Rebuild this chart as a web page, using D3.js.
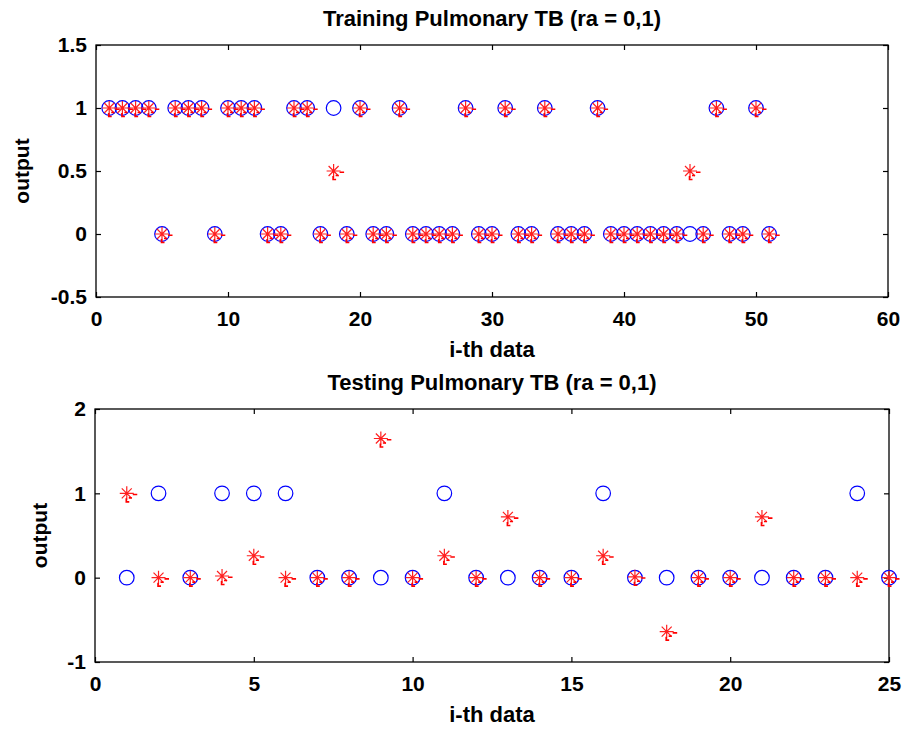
<!DOCTYPE html>
<html><head><meta charset="utf-8">
<script src="https://cdn.jsdelivr.net/npm/d3@7"></script>
<style>body{margin:0;background:#fff;} text{font-family:"Liberation Sans",Arial,sans-serif;font-weight:bold;fill:#000;}</style>
</head><body>
<svg id="chart" width="904" height="729"></svg>
<script>
// ---- data ----
const trainTitle = "Training Pulmonary TB (ra = 0,1)";
const testTitle = "Testing Pulmonary TB (ra = 0,1)";
const xLabel = "i-th data";
const yLabel = "output";
const trainTarget = [1,1,1,1,0,1,1,1,0,1, 1,1,0,0,1,1,0,1,0,1, 0,0,1,0,0,0,0,1,0,0, 1,0,0,1,0,0,0,1,0,0, 0,0,0,0,0,0,1,0,0,1, 0];
const trainOutput = [1,1,1,1,0,1,1,1,0,1, 1,1,0,0,1,1,0,0.5,0,1, 0,0,1,0,0,0,0,1,0,0, 1,0,0,1,0,0,0,1,0,0, 0,0,0,0,0.5,0,1,0,0,1, 0];
const testTarget = [0,1,0,1,1,1,0,0,0,0, 1,0,0,0,0,1,0,0,0,0, 0,0,0,1,0];
const testOutput = [1,0,0,0.02,0.26,0,0,0,1.65,0, 0.26,0,0.72,0,0,0.26,0.01,-0.64,0,0, 0.72,0,0,0,0];
const trainXTicks = [0,10,20,30,40,50,60];
const trainYTicks = [-0.5,0,0.5,1,1.5];
const testXTicks = [0,5,10,15,20,25];
const testYTicks = [-1,0,1,2];

const svg = d3.select("#chart");
svg.append("rect").attr("width",904).attr("height",729).attr("fill","#fff");

function panel(o){
  const x = d3.scaleLinear().domain(o.xDomain).range([o.left,o.right]);
  const y = d3.scaleLinear().domain(o.yDomain).range([o.bottom,o.top]);
  const g = svg.append("g");
  const tl = 5;
  const fmt = d => String(d);
  g.append("g").attr("transform",`translate(0,${o.bottom})`)
    .call(d3.axisBottom(x).tickValues(o.xTicks).tickSize(-tl).tickPadding(14).tickFormat(fmt))
    .call(a=>{a.select(".domain").remove(); a.selectAll("text").attr("font-size",21).attr("dy","0.71em");});
  g.append("g").attr("transform",`translate(0,${o.top})`)
    .call(d3.axisTop(x).tickValues(o.xTicks).tickSize(-tl).tickFormat(""))
    .call(a=>a.select(".domain").remove());
  g.append("g").attr("transform",`translate(${o.left},0)`)
    .call(d3.axisLeft(y).tickValues(o.yTicks).tickSize(-tl).tickPadding(9).tickFormat(fmt))
    .call(a=>{a.select(".domain").remove(); a.selectAll("text").attr("font-size",21);});
  g.append("g").attr("transform",`translate(${o.right},0)`)
    .call(d3.axisRight(y).tickValues(o.yTicks).tickSize(-tl).tickFormat(""))
    .call(a=>a.select(".domain").remove());
  g.selectAll(".tick line").attr("stroke","#000").attr("stroke-width",1.2);
  g.append("rect").attr("x",o.left).attr("y",o.top).attr("width",o.right-o.left).attr("height",o.bottom-o.top)
    .attr("fill","none").attr("stroke","#000").attr("stroke-width",1.3);
  g.append("g").selectAll("circle").data(o.target).join("circle")
    .attr("cx",(d,i)=>x(i+1)).attr("cy",d=>y(d)).attr("r",7.3)
    .attr("fill","none").attr("stroke","#0000ff").attr("stroke-width",1.2);
  const star = "M-7,0H7M0,-7V7M-5,-5L5,5M-5,5L5,-5";
  const tail = "M6,1.2H10.5M-0.5,5V8.5H2.5M2,4.5H5";
  const sg = g.append("g").selectAll("g").data(o.output).join("g")
    .attr("transform",(d,i)=>`translate(${x(i+1)},${y(d)})`);
  sg.append("path").attr("d",star).attr("stroke","#ff2020").attr("stroke-width",1.2).attr("fill","none");
  sg.append("path").attr("d",tail).attr("stroke","#ff0000").attr("stroke-width",1.6).attr("fill","none");
  svg.append("text").attr("x",(o.left+o.right)/2).attr("y",o.top-19).attr("text-anchor","middle")
    .attr("font-size",22).text(o.title);
  svg.append("text").attr("x",(o.left+o.right)/2).attr("y",o.bottom+60).attr("text-anchor","middle")
    .attr("font-size",22).text(xLabel);
  svg.append("text").attr("transform",`translate(${o.yLabelX},${(o.top+o.bottom)/2}) rotate(-90)`)
    .attr("text-anchor","middle").attr("font-size",21).text(yLabel);
}

panel({title:trainTitle, target:trainTarget, output:trainOutput, xDomain:[0,60], yDomain:[-0.5,1.5],
  xTicks:trainXTicks, yTicks:trainYTicks, left:96, right:888, top:45, bottom:297, yLabelX:29});
panel({title:testTitle, target:testTarget, output:testOutput, xDomain:[0,25], yDomain:[-1,2],
  xTicks:testXTicks, yTicks:testYTicks, left:95, right:889, top:409, bottom:662, yLabelX:47});
</script>
</body></html>
